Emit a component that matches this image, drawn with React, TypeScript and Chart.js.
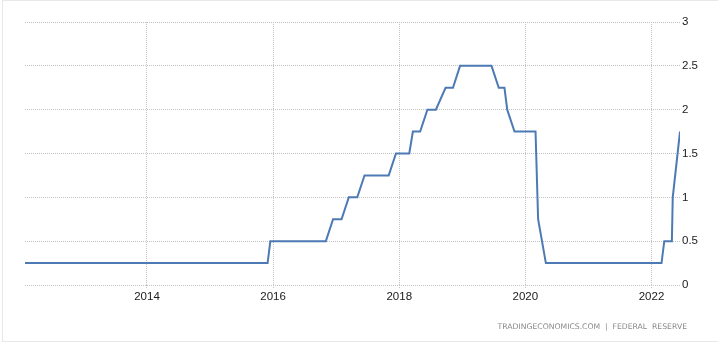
import React, { useEffect, useRef } from "react";
import { Chart, registerables } from "chart.js";

Chart.register(...registerables);

// Fed funds rate (upper bound), readings at change points
const DATES = [
  "2012-01-25", "2015-11-30", "2015-12-16", "2016-11-02", "2016-12-14",
  "2017-02-01", "2017-03-15", "2017-05-03", "2017-06-14", "2017-11-01",
  "2017-12-13", "2018-02-28", "2018-03-21", "2018-05-02", "2018-06-13",
  "2018-08-01", "2018-09-26", "2018-11-08", "2018-12-19", "2019-06-19",
  "2019-07-31", "2019-09-02", "2019-09-18", "2019-10-30", "2020-02-29",
  "2020-03-15", "2020-04-29", "2022-02-28", "2022-03-16", "2022-04-29",
  "2022-05-04", "2022-06-15",
];
const RATES = [
  0.25, 0.25, 0.5, 0.5, 0.75,
  0.75, 1, 1, 1.25, 1.25,
  1.5, 1.5, 1.75, 1.75, 2,
  2, 2.25, 2.25, 2.5, 2.5,
  2.25, 2.25, 2, 1.75, 1.75,
  0.75, 0.25, 0.25, 0.5, 0.5,
  1, 1.75,
];
const X_TICKS = [2014, 2016, 2018, 2020, 2022];
const Y_TICKS = [0, 0.5, 1, 1.5, 2, 2.5, 3];
const SOURCE = "TRADINGECONOMICS.COM  |  FEDERAL  RESERVE";

function toYear(s: string): number {
  const [y, m, d] = s.split("-").map(Number);
  const start = Date.UTC(y, 0, 1);
  const end = Date.UTC(y + 1, 0, 1);
  return y + (Date.UTC(y, m - 1, d) - start) / (end - start);
}

const TICK_FONT = {
  family: "'Liberation Sans', Arial, sans-serif",
  size: 11.5,
};
const GRID_COLOR = "#c4c4c4";

export default function App() {
  const ref = useRef<HTMLCanvasElement | null>(null);

  useEffect(() => {
    if (!ref.current) return;
    const points = DATES.map((d, i) => ({ x: toYear(d), y: RATES[i] }));
    const chart = new Chart(ref.current, {
      type: "line",
      data: {
        datasets: [
          {
            data: points,
            borderColor: "#4d7ab5",
            borderWidth: 2,
            pointRadius: 0,
            pointHoverRadius: 0,
            tension: 0,
            fill: false,
          },
        ],
      },
      options: {
        animation: false,
        responsive: false,
        maintainAspectRatio: false,
        events: [],
        layout: { padding: { left: 25, top: 22, right: 0, bottom: 0 } },
        plugins: { legend: { display: false }, tooltip: { enabled: false } },
        scales: {
          x: {
            type: "linear",
            min: points[0].x,
            max: points[points.length - 1].x,
            afterBuildTicks: (s: any) => {
              s.ticks = X_TICKS.map((v) => ({ value: v }));
            },
            afterFit: (s: any) => {
              s.height = 60;
            },
            ticks: {
              callback: (v: any) => String(v),
              font: TICK_FONT,
              color: "#1a1a1a",
              padding: 2,
              maxRotation: 0,
              autoSkip: false,
            },
            grid: {
              color: GRID_COLOR,
              tickColor: GRID_COLOR,
              drawTicks: true,
              tickLength: 3,
              tickBorderDash: [1, 1],
            },
            border: { display: false, dash: [1, 1] },
          },
          y: {
            type: "linear",
            position: "right",
            min: 0,
            max: 3,
            afterBuildTicks: (s: any) => {
              s.ticks = Y_TICKS.map((v) => ({ value: v }));
            },
            afterFit: (s: any) => {
              s.width = 38;
            },
            ticks: {
              callback: (v: any) => String(v),
              font: TICK_FONT,
              color: "#1a1a1a",
              padding: 2,
            },
            grid: { color: GRID_COLOR, drawTicks: false },
            border: { display: false, dash: [1, 1] },
          },
        },
      },
    });
    return () => chart.destroy();
  }, []);

  return (
    <div
      style={{
        position: "absolute",
        left: 0,
        top: 0,
        width: 718,
        height: 357,
        overflow: "hidden",
        background: "#fff",
      }}
    >
      <div
        style={{
          position: "absolute",
          left: 2,
          top: 0,
          width: 730,
          height: 342,
          border: "1px solid #e8e8e8",
          boxSizing: "border-box",
        }}
      />
      <canvas
        ref={ref}
        width={718}
        height={345}
        style={{ position: "absolute", left: 0, top: 0, width: 718, height: 345, display: "block" }}
      />
      <div
        style={{
          position: "absolute",
          right: 31,
          top: 321,
          height: 12,
          lineHeight: "12px",
          fontFamily: "'DejaVu Sans', Verdana, sans-serif",
          fontSize: 7.7,
          color: "#8a8a8a",
          whiteSpace: "pre",
        }}
      >
        {SOURCE}
      </div>
    </div>
  );
}
